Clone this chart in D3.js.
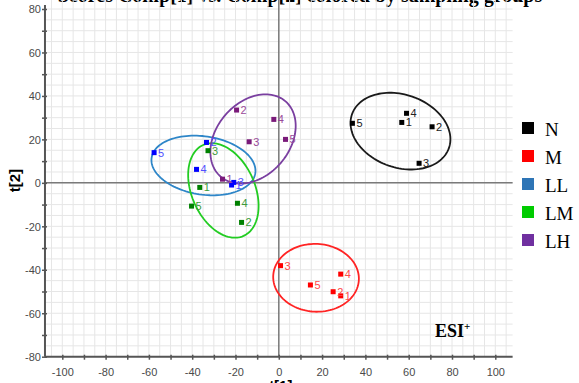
<!DOCTYPE html>
<html>
<head>
<meta charset="utf-8">
<script src="https://cdn.jsdelivr.net/npm/d3@7"></script>
<style>
  body { margin: 0; background: #fff; overflow: hidden; }
  svg { display: block; }
</style>
</head>
<body>
<div id="chart"></div>
<script>
// score values, sample ids 1..5 in order
var groups = ["N", "M", "LL", "LM", "LH"];
var sampleIds = ["1", "2", "3", "4", "5"];

var t1N = [56.8, 70.8, 64.8, 59.0, 34.0],
    t2N = [27.8, 25.8, 9.0, 32.0, 27.4];
var t1M = [28.6, 25.1, 0.8, 28.6, 14.6],
    t2M = [-52.0, -50.1, -38.1, -42.0, -47.0];
var t1LL = [-21.8, -33.4, -20.8, -38.0, -57.6],
    t2LL = [-1.0, 18.6, 0.2, 6.2, 13.9];
var t1LM = [-36.5, -17.2, -32.7, -19.1, -40.3],
    t2LM = [-2.1, -18.2, 14.8, -9.4, -10.7];
var t1LH = [-26.0, -19.5, -13.7, -2.3, 3.1],
    t2LH = [1.7, 33.5, 18.9, 29.2, 20.0];

// confidence ellipses per group (centre, semi axes, tilt in degrees)
var ellCx = [56.2, 17.2, -34.8, -25.6, -11.9],
    ellCy = [23.8, -43.7, 8.0, -3.5, 20.2],
    ellA = [23.7, 19.8, 24.2, 22.9, 22.9],
    ellB = [16.8, 15.6, 13.4, 14.6, 16.9],
    ellAngle = [-19, -3, -8.4, -66, 49];

var xTicks = d3.range(-100, 101, 20),
    yTicks = d3.range(-80, 81, 20);

var pointColor = ["#000000", "#ff0000", "#0000ff", "#008000", "#7a1a7a"],
    labelColor = ["#222222", "#ff4a4a", "#5050ff", "#3c9a3c", "#9a4a9a"],
    ellColor = ["#1a1a1a", "#ff2424", "#2e86c8", "#22cc22", "#7a3fa0"],
    legendColor = ["#000000", "#ff0000", "#2e75b6", "#00cc00", "#7030a0"];

var t1All = [t1N, t1M, t1LL, t1LM, t1LH],
    t2All = [t2N, t2M, t2LL, t2LM, t2LH];

var width = 579, height = 383;

var svg = d3.select("#chart").append("svg")
    .attr("width", width)
    .attr("height", height);

var x = d3.scaleLinear().domain([-100, 100]).range([62.3, 495.3]);
var y = d3.scaleLinear().domain([-80, 80]).range([356.7, 9]);

var left = x(-108), right = x(108), bottom = y(-80), top = -5;

// title, mostly cut off by the top edge
svg.append("text")
    .attr("x", 300).attr("y", 1.5)
    .attr("text-anchor", "middle")
    .style("font-family", "Liberation Serif, Times New Roman, serif")
    .style("font-weight", "bold")
    .style("font-size", "20px")
    .text("Scores Comp[1] vs. Comp[2] colored by sampling groups");

//grid every 5 units
var grid = svg.append("g").attr("class", "grid");
grid.selectAll(".vg")
    .data(d3.range(-105, 106, 5))
    .enter().append("line")
    .attr("x1", function(d) { return x(d); })
    .attr("x2", function(d) { return x(d); })
    .attr("y1", top).attr("y2", bottom)
    .style("stroke", "#e6e6e6").style("stroke-width", 1);
grid.selectAll(".hg")
    .data(d3.range(-75, 86, 5))
    .enter().append("line")
    .attr("y1", function(d) { return y(d); })
    .attr("y2", function(d) { return y(d); })
    .attr("x1", left).attr("x2", right)
    .style("stroke", "#e6e6e6").style("stroke-width", 1);

// zero lines
svg.append("line")
    .attr("x1", x(0)).attr("x2", x(0))
    .attr("y1", top).attr("y2", bottom)
    .style("stroke", "#7a7a7a").style("stroke-width", 1.5);
svg.append("line")
    .attr("x1", left).attr("x2", right)
    .attr("y1", y(0)).attr("y2", y(0))
    .style("stroke", "#7a7a7a").style("stroke-width", 1.5);

// axes
var xAxis = d3.axisBottom(x)
    .tickValues(d3.range(-100, 101, 10))
    .tickSize(0)
    .tickFormat(function(d) { return xTicks.indexOf(d) >= 0 ? d : ""; });
var yAxis = d3.axisLeft(y)
    .tickValues(d3.range(-80, 81, 10))
    .tickSize(0)
    .tickFormat(function(d) { return yTicks.indexOf(d) >= 0 ? d : ""; });

var gx = svg.append("g").attr("transform", "translate(0," + bottom + ")").call(xAxis);
var gy = svg.append("g").attr("transform", "translate(" + left + ",0)").call(yAxis);

[gx, gy].forEach(function(g) {
    g.select(".domain").remove();
    g.selectAll("text")
        .style("font-family", "Liberation Sans, Arial, sans-serif")
        .style("font-size", "11px")
        .style("fill", "#4a4a4a");
});
gx.selectAll("text").attr("dy", "0").attr("y", 19);
gy.selectAll("text").attr("x", -4).attr("dy", "0.35em");

gx.selectAll(".tick").append("line")
    .attr("y1", -2).attr("y2", 3)
    .style("stroke", "#555").style("stroke-width", 1.5);
gy.selectAll(".tick").append("line")
    .attr("x1", -3).attr("x2", 2)
    .style("stroke", "#555").style("stroke-width", 1.5);

svg.append("line")
    .attr("x1", left).attr("x2", right)
    .attr("y1", bottom).attr("y2", bottom)
    .style("stroke", "#555").style("stroke-width", 2);
svg.append("line")
    .attr("x1", left).attr("x2", left)
    .attr("y1", 5).attr("y2", bottom)
    .style("stroke", "#555").style("stroke-width", 2);

// axis titles
svg.append("text")
    .attr("transform", "translate(20," + y(1) + ") rotate(-90)")
    .attr("text-anchor", "middle")
    .style("font-family", "Liberation Sans, Arial, sans-serif")
    .style("font-weight", "bold").style("font-size", "15px")
    .text("t[2]");
svg.append("text")
    .attr("x", x(0) + 2).attr("y", 391)
    .attr("text-anchor", "middle")
    .style("font-family", "Liberation Sans, Arial, sans-serif")
    .style("font-weight", "bold").style("font-size", "15px")
    .text("t[1]");

// ellipses
var ellipseLine = d3.line()
    .x(function(p) { return x(p[0]); })
    .y(function(p) { return y(p[1]); })
    .curve(d3.curveLinearClosed);

groups.forEach(function(g, gi) {
    var phi = ellAngle[gi] * Math.PI / 180;
    var pts = d3.range(0, 120).map(function(k) {
        var t = k / 120 * 2 * Math.PI;
        var ex = ellCx[gi] + ellA[gi] * Math.cos(t) * Math.cos(phi) - ellB[gi] * Math.sin(t) * Math.sin(phi);
        var ey = ellCy[gi] + ellA[gi] * Math.cos(t) * Math.sin(phi) + ellB[gi] * Math.sin(t) * Math.cos(phi);
        return [ex, ey];
    });
    svg.append("path")
        .attr("d", ellipseLine(pts))
        .style("fill", "none")
        .style("stroke", ellColor[gi])
        .style("stroke-width", 1.8);
});

// points with sample labels
groups.forEach(function(g, gi) {
    var pts = sampleIds.map(function(id, i) {
        return {id: id, t1: t1All[gi][i], t2: t2All[gi][i]};
    });
    var grp = svg.append("g").attr("class", "pts" + g);
    grp.selectAll("rect")
        .data(pts)
        .enter().append("rect")
        .attr("x", function(d) { return x(d.t1) - 2.5; })
        .attr("y", function(d) { return y(d.t2) - 2.5; })
        .attr("width", 5).attr("height", 5)
        .style("fill", pointColor[gi]);
    grp.selectAll("text")
        .data(pts)
        .enter().append("text")
        .attr("x", function(d) { return x(d.t1) + 4; })
        .attr("y", function(d) { return y(d.t2) + 4; })
        .style("font-family", "Liberation Sans, Arial, sans-serif")
        .style("font-size", "11px")
        .style("fill", labelColor[gi])
        .text(function(d) { return d.id; });
});

// legend
var legend = svg.selectAll(".legend")
    .data(groups)
    .enter().append("g")
    .attr("class", "legend")
    .attr("transform", function(d, i) { return "translate(522," + (122 + i * 28) + ")"; });
legend.append("rect")
    .attr("width", 12).attr("height", 12)
    .style("fill", function(d, i) { return legendColor[i]; });
legend.append("text")
    .attr("x", 23).attr("y", 13.5)
    .style("font-family", "Liberation Serif, Times New Roman, serif")
    .style("font-size", "19px")
    .text(function(d) { return d; });

// ESI+ tag
var esi = svg.append("text")
    .attr("x", 435).attr("y", 337)
    .style("font-family", "Liberation Serif, Times New Roman, serif")
    .style("font-weight", "bold").style("font-size", "18px");
esi.append("tspan").text("ESI");
esi.append("tspan").attr("dy", -7).style("font-size", "11px").text("+");
</script>
</body>
</html>
